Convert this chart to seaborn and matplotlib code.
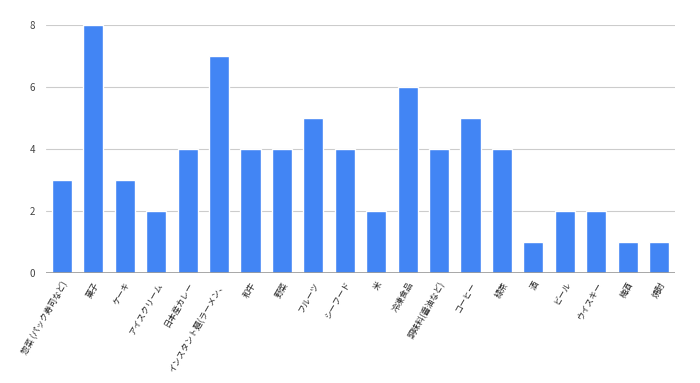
import matplotlib
matplotlib.use("Agg")
import matplotlib.pyplot as plt
import seaborn as sns
import pandas as pd

categories = ["惣菜 (パック寿司など)", "菓子", "ケーキ", "アイスクリーム", "日本産カレー",
              "インスタント麺(ラーメン、", "和牛", "野菜", "フルーツ", "シーフード", "米",
              "冷凍食品", "調味料(醤油など)", "コーヒー", "緑茶", "酒", "ビール",
              "ウイスキー", "梅酒", "焼酎"]
counts = [3, 8, 3, 2, 4, 7, 4, 4, 5, 4, 2, 6, 4, 5, 4, 1, 2, 2, 1, 1]
yticks = [0, 2, 4, 6, 8]

sns.set_style("white")
plt.rcParams['font.family'] = ['Noto Sans CJK JP', 'DejaVu Sans']

df = pd.DataFrame({"cat": categories, "n": counts})

fig = plt.figure(figsize=(7, 3.83), dpi=100)
ax = fig.add_axes([0.066, 0.287, 0.898, 0.648])
sns.barplot(data=df, x="cat", y="n", color="#4285F4", saturation=1, width=0.64, ax=ax, zorder=3)

ax.set_ylim(0, 8)
ax.set_xlim(-0.5, len(categories) - 0.5)
ax.set_yticks(yticks)
ax.set_yticklabels([str(t) for t in yticks], fontsize=7, color="#444444")
ax.grid(axis="y", color="#cccccc", linewidth=0.8, zorder=0)
ax.axhline(0, color="#999999", linewidth=1.2, zorder=4)
ax.set_xlabel("")
ax.set_ylabel("")
ax.tick_params(axis="both", length=0, pad=8)
ax.tick_params(axis="x", pad=5)
ax.set_xticks(range(len(categories)))
ax.set_xticklabels(categories, rotation=60, ha="right", rotation_mode="anchor",
                   fontsize=6, color="#222222")
for s in ax.spines.values():
    s.set_visible(False)

fig.savefig("out.png", dpi=100)
